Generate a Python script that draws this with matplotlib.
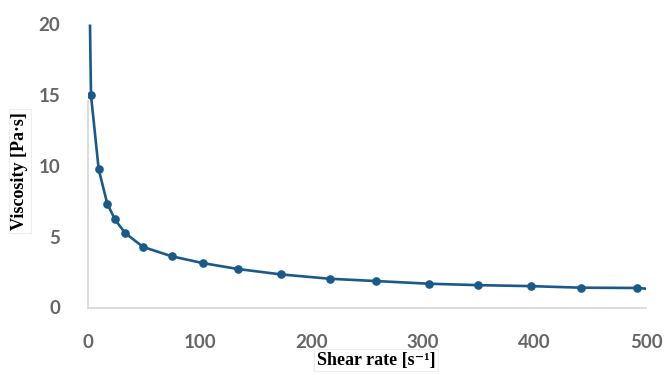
import matplotlib
matplotlib.use("Agg")
import matplotlib.pyplot as plt

# Data
shear_rate = [2.7, 9.6, 17.3, 24.2, 33.2, 49.3, 75.0, 102.7, 134.4, 172.6,
              216.8, 258.0, 305.6, 349.5, 397.2, 441.4, 492.2]
viscosity = [15.0, 9.76, 7.33, 6.22, 5.27, 4.28, 3.62, 3.14, 2.72, 2.34,
             2.03, 1.87, 1.68, 1.58, 1.51, 1.40, 1.38]
# line continues beyond the first/last measured points
line_start = (1.8, 20.0)
line_end = (500.0, 1.33)

x_ticks = [0, 100, 200, 300, 400, 500]
y_ticks = [0, 5, 10, 15, 20]

color = "#1a5a8a"
tick_color = "#666666"

fig = plt.figure(figsize=(6.66, 3.75), dpi=100)
ax = fig.add_axes([0.1321, 0.18, 0.838, 0.7547])

lx = [line_start[0]] + shear_rate + [line_end[0]]
ly = [line_start[1]] + viscosity + [line_end[1]]
ax.plot(lx, ly, color=color, lw=1.9, solid_capstyle="butt")
ax.plot(shear_rate, viscosity, "o", color=color, ms=5.2)

ax.set_xlim(0, 500)
ax.set_ylim(0, 20)
ax.set_xticks(x_ticks)
ax.set_yticks(y_ticks)

for s in ["top", "right"]:
    ax.spines[s].set_visible(False)
for s in ["left", "bottom"]:
    ax.spines[s].set_color("#d6d6d6")
    ax.spines[s].set_linewidth(1.2)
ax.spines["left"].set_bounds(0, 14.6)

ax.tick_params(length=0)
ax.tick_params(axis="x", pad=19)
ax.tick_params(axis="y", pad=20)
for lab in ax.get_xticklabels() + ax.get_yticklabels():
    lab.set_fontfamily("Lato")
    lab.set_fontweight("bold")
    lab.set_fontsize(13.5)
    lab.set_color(tick_color)

box = dict(boxstyle="square,pad=0.15", fc="white", ec="#eeeeee", lw=0.8)
fig.text(376 / 666, 1 - 360 / 375, "Shear rate [s\u207b\u00b9]",
         family=["Liberation Serif", "DejaVu Serif"], weight="bold",
         fontsize=13, ha="center", va="center", color="black", bbox=box)
fig.text(20 / 666, 1 - 171 / 375, "Viscosity [Pa\u00b7s]",
         family=["Liberation Serif", "DejaVu Serif"], weight="bold",
         fontsize=13, ha="center", va="center", rotation=90, color="black",
         bbox=box)

fig.savefig("out.png", dpi=100)
